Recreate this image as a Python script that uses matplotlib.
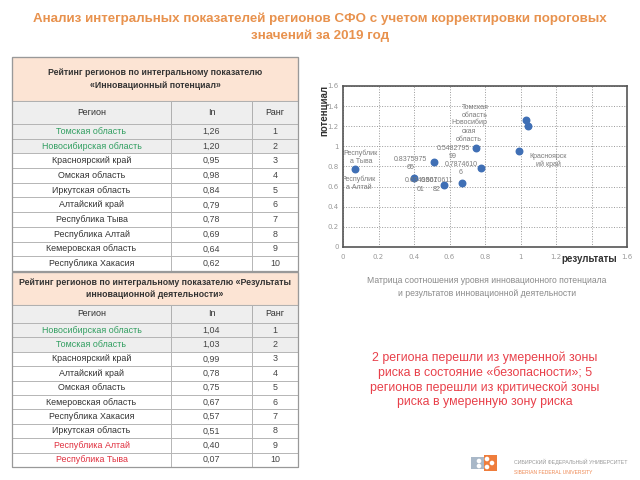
import matplotlib.pyplot as plt
from matplotlib.patches import Rectangle

NARROW = ['Liberation Sans Narrow', 'Liberation Sans', 'DejaVu Sans']
REGULAR = ['Liberation Sans', 'DejaVu Sans']

# --- data -------------------------------------------------------------
title_text = ("Анализ интегральных показателей регионов СФО с учетом корректировки пороговых\n"
              "значений за 2019 год")

pot_title = "Рейтинг регионов по интегральному показателю\n«Инновационный потенциал»"
pot_regions = ["Томская область", "Новосибирская область", "Красноярский край",
               "Омская область", "Иркутская область", "Алтайский край",
               "Республика Тыва", "Республика Алтай", "Кемеровская область",
               "Республика Хакасия"]
pot_values = ["1,26", "1,20", "0,95", "0,98", "0,84", "0,79", "0,78", "0,69", "0,64", "0,62"]
pot_ranks = ["1", "2", "3", "4", "5", "6", "7", "8", "9", "10"]
pot_colors = ["green", "green"] + ["black"] * 8

res_title = "Рейтинг регионов по интегральному показателю «Результаты\nинновационной деятельности»"
res_regions = ["Новосибирская область", "Томская область", "Красноярский край",
               "Алтайский край", "Омская область", "Кемеровская область",
               "Республика Хакасия", "Иркутская область", "Республика Алтай",
               "Республика Тыва"]
res_values = ["1,04", "1,03", "0,99", "0,78", "0,75", "0,67", "0,57", "0,51", "0,40", "0,07"]
res_ranks = ["1", "2", "3", "4", "5", "6", "7", "8", "9", "10"]
res_colors = ["green", "green"] + ["black"] * 6 + ["red", "red"]

col_headers = ["Регион", "In", "Ранг"]

# scatter: x = results, y = potential
scatter_results = [1.04, 1.03, 0.99, 0.78, 0.75, 0.67, 0.57, 0.51, 0.40, 0.07]
scatter_potential = [1.20, 1.26, 0.95, 0.79, 0.98, 0.64, 0.62, 0.84, 0.69, 0.78]

point_labels = ["Томская\nобласть", "Новосибир\nская\nобласть", "0.5482795\n99",
                "0.8375975\n65", "0.7874610\n6", "0.6349801\n01", "0.5670611\n82",
                "Республик\nа Тыва", "Республик\nа Алтай", "Красноярск\nий край"]
label_x = [0.744, 0.710, 0.620, 0.378, 0.665, 0.439, 0.529, 0.101, 0.090, 1.155]
label_y = [1.347, 1.153, 0.939, 0.830, 0.780, 0.616, 0.616, 0.890, 0.631, 0.860]

x_ticks = [0, 0.2, 0.4, 0.6, 0.8, 1, 1.2, 1.4, 1.6]
x_tick_labels = ["0", "0.2", "0.4", "0.6", "0.8", "1", "1.2", "", "1.6"]
y_ticks = [0, 0.2, 0.4, 0.6, 0.8, 1, 1.2, 1.4, 1.6]
y_tick_labels = ["0", "0.2", "0.4", "0.6", "0.8", "1", "1.2", "1.4", "1.6"]

caption = "Матрица соотношения уровня инновационного потенциала\nи результатов инновационной деятельности"
note = ("2 региона перешли из умеренной зоны\nриска в состояние «безопасности»; 5\n"
        "регионов перешли из критической зоны\nриска в умеренную зону риска")

TEXT_COLORS = {"green": "#2f9e5f", "black": "#333333", "red": "#e0303f"}
ORANGE = "#e8924e"
PEACH = "#fce4d4"
ROWGRAY = "#eeeeee"
LINE = "#b0b0b0"

fig = plt.figure(figsize=(6.4, 4.8), dpi=100)
bg = fig.add_axes([0, 0, 1, 1])
bg.set_xlim(0, 640)
bg.set_ylim(480, 0)
bg.axis('off')

# title
bg.text(320, 27, title_text, ha='center', va='center', color=ORANGE, fontsize=9.6,
        fontweight='bold', family=NARROW, linespacing=1.45)

# column edges of tables
cx = [12, 171, 252, 298]


def draw_table(top, title_h, head_h, row_h, title, regions, values, ranks, colors):
    # title box
    bg.add_patch(Rectangle((cx[0], top), cx[3] - cx[0], title_h, facecolor=PEACH,
                           edgecolor=LINE, lw=0.8))
    bg.text((cx[0] + cx[3]) / 2, top + title_h / 2, title, ha='center', va='center',
            fontsize=6.3, fontweight='bold', color='#333333', family=NARROW, linespacing=1.45)
    # header row
    y = top + title_h
    for i, h in enumerate(col_headers):
        bg.add_patch(Rectangle((cx[i], y), cx[i + 1] - cx[i], head_h, facecolor=ROWGRAY,
                               edgecolor=LINE, lw=0.7))
        bg.text((cx[i] + cx[i + 1]) / 2, y + head_h / 2, h, ha='center', va='center',
                fontsize=6.5, color='#333333', family=NARROW)
    y += head_h
    for r in range(len(regions)):
        fc = ROWGRAY if colors[r] == "green" else "white"
        cells = [regions[r], values[r], ranks[r]]
        for i, c in enumerate(cells):
            bg.add_patch(Rectangle((cx[i], y), cx[i + 1] - cx[i], row_h, facecolor=fc,
                                   edgecolor=LINE, lw=0.6))
            col = TEXT_COLORS[colors[r]] if i == 0 else '#444444'
            bg.text((cx[i] + cx[i + 1]) / 2, y + row_h / 2, c, ha='center', va='center',
                    fontsize=6.4, color=col, family=NARROW)
        y += row_h
    # outer border
    bg.add_patch(Rectangle((cx[0], top), cx[3] - cx[0], y - top, facecolor='none',
                           edgecolor='#999999', lw=0.9))


draw_table(57, 44, 23, 14.7, pot_title, pot_regions, pot_values, pot_ranks, pot_colors)
draw_table(272, 33, 18, 14.4, res_title, res_regions, res_values, res_ranks, res_colors)

# scatter chart
ax = fig.add_axes([343 / 640, 1 - 247 / 480, (627 - 343) / 640, (247 - 86) / 480])
ax.scatter(scatter_results, scatter_potential, s=22, color='#3f6fb5', zorder=3)
for t, lx, ly in zip(point_labels, label_x, label_y):
    ax.text(lx, ly, t, ha='center', va='center', fontsize=5, color='#7a7a7a',
            family=REGULAR, linespacing=1.25, zorder=4)
ax.set_xlim(0, 1.6)
ax.set_ylim(0, 1.6)
ax.set_xticks(x_ticks)
ax.set_yticks(y_ticks)
ax.set_xticklabels(x_tick_labels)
ax.set_yticklabels(y_tick_labels)
ax.tick_params(axis='x', length=0, labelsize=5, colors='#999999', pad=5)
ax.tick_params(axis='y', length=0, labelsize=5, colors='#999999', pad=3)
ax.grid(True, linestyle=':', color='#999999', lw=0.7)
for s in ax.spines.values():
    s.set_color('#555555')
    s.set_linewidth(1.2)

bg.text(324, 110, "потенциал", rotation=90, ha='center', va='center', fontsize=7,
        fontweight='bold', color='#333333', family=REGULAR, zorder=5)
fig.text(589 / 640, 1 - 259 / 480, "результаты", ha='center', va='center', fontsize=7,
         fontweight='bold', color='#333333', family=REGULAR, zorder=10)

bg.text(487, 287, caption, ha='center', va='center', fontsize=6.2, color='#8a8a8a',
        family=NARROW, linespacing=1.45)
bg.text(485, 380, note, ha='center', va='center', fontsize=8.9, color='#e8404a',
        family=REGULAR, linespacing=1.24)

# university logo
bg.add_patch(Rectangle((471, 457), 14, 12, facecolor='#a9b8c8', edgecolor='none'))
bg.add_patch(Rectangle((484, 455), 13, 16, facecolor='#ef7d3c', edgecolor='none'))
for cxp, cyp in [(487, 459), (492, 463), (487, 467), (479, 461), (479, 466)]:
    bg.add_patch(plt.Circle((cxp, cyp), 1.6, color='white'))
bg.text(514, 462, "СИБИРСКИЙ ФЕДЕРАЛЬНЫЙ УНИВЕРСИТЕТ", ha='left', va='center',
        fontsize=3.8, color='#999999', family=NARROW)
bg.text(514, 472, "SIBERIAN FEDERAL UNIVERSITY", ha='left', va='center',
        fontsize=3.65, color='#ee8a55', family=NARROW)

fig.savefig('out.png', dpi=100)
